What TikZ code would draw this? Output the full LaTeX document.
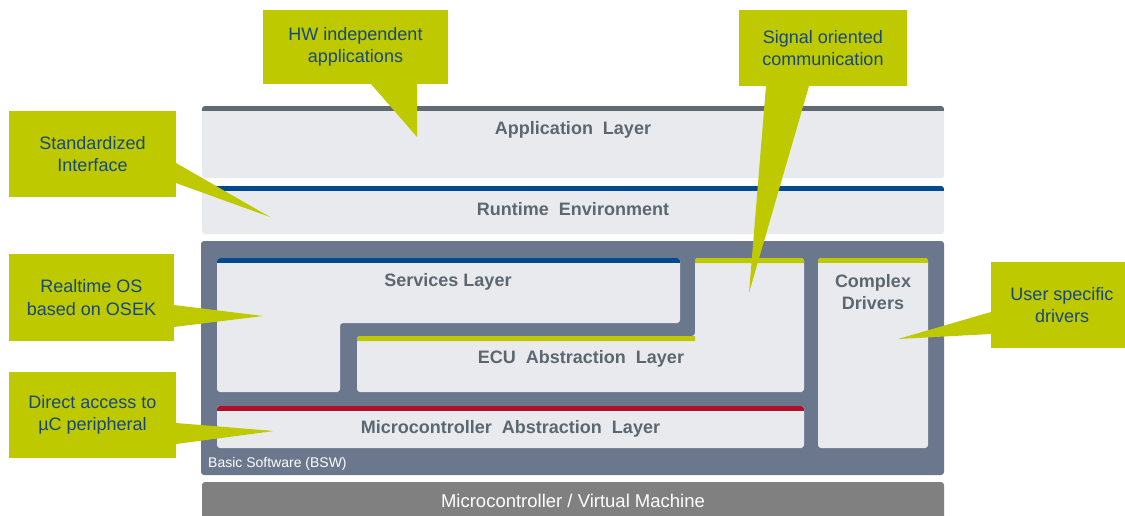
\documentclass[tikz,border=0pt]{standalone}
\usepackage{fontspec}
\setmainfont{Liberation Sans}
\usepackage{tikz}

\definecolor{callgreen}{RGB}{190,201,0}
\definecolor{calltxt}{RGB}{23,72,124}
\definecolor{layerbg}{RGB}{232,234,238}
\definecolor{layertxt}{RGB}{92,103,112}
\definecolor{bswbg}{RGB}{107,119,141}
\definecolor{appstrip}{RGB}{95,106,114}
\definecolor{bluestrip}{RGB}{0,74,141}
\definecolor{redstrip}{RGB}{176,16,42}
\definecolor{mcbg}{RGB}{128,128,128}

\tikzset{
	layer/.style={fill=layerbg, rounded corners=3pt, anchor=north west, inner sep=0pt, outer sep=0pt},
	strip/.style={path picture={\fill[#1, sharp corners] (path picture bounding box.north west) rectangle ([yshift=-5pt]path picture bounding box.north east);}},
	layertext/.style={text=layertxt, font=\fontsize{18}{21.5}\selectfont\bfseries, align=center, inner sep=0pt},
	callout/.style={fill=callgreen, text=calltxt, font=\fontsize{18}{22.5}\selectfont, align=center, anchor=north west, inner sep=0pt, outer sep=0pt},
	pointer/.style={fill=callgreen}
}

\begin{document}
\begin{tikzpicture}[x=1pt,y=-1pt]
	\useasboundingbox (0,0) rectangle (1125,516);

	\node[layer, strip=appstrip, minimum width=742pt, minimum height=72pt] (app) at (202,106) {};
	\node[layer, strip=bluestrip, minimum width=742pt, minimum height=48pt] (rte) at (202,186) {};
	\node[layer, fill=bswbg, minimum width=743pt, minimum height=234pt] (bsw) at (201,241) {};
	\node[layer, fill=mcbg, minimum width=742pt, minimum height=50pt] (mcvm) at (202,482) {};

	\path[fill=layerbg, rounded corners=3pt, path picture={\fill[bluestrip, sharp corners] (217,258) rectangle (680,263);}]
		(217,258) -- (680,258) -- (680,323) -- (340,323) -- (340,392) -- (217,392) -- cycle;
	\path[fill=layerbg, rounded corners=3pt, path picture={\fill[callgreen, sharp corners] (357,336) rectangle (695,341) (695,258) rectangle (804,263);}]
		(357,336) -- (695,336) -- (695,258) -- (804,258) -- (804,392) -- (357,392) -- cycle;
	\node[layer, strip=redstrip, minimum width=587pt, minimum height=42pt] (mcal) at (217,406) {};
	\node[layer, strip=callgreen, minimum width=110pt, minimum height=190pt] (cdd) at (818,258) {};

	\node[layertext] (apptext) at ([yshift=-23.5pt]app.north) {Application\ \ Layer};
	\node[layertext] (rtetext) at ([yshift=-23.5pt]rte.north) {Runtime\ \ Environment};
	\node[layertext] (srvtext) at (448,281.5) {Services Layer};
	\node[layertext] (ecutext) at (581,358.5) {ECU\ \ Abstraction\ \ Layer};
	\node[layertext] (mcaltext) at ([yshift=-23pt]mcal.north) {Microcontroller\ \ Abstraction\ \ Layer};
	\node[layertext] (cddtext) at ([yshift=-34pt]cdd.north) {Complex\\Drivers};
	\node[text=white, font=\fontsize{14}{16}\selectfont, anchor=west, inner sep=0pt] (bswtext) at ([xshift=7pt,yshift=11pt]bsw.south west) {Basic Software (BSW)};
	\node[text=white, font=\fontsize{18.5}{22}\selectfont, inner sep=0pt] (mcvmtext) at ([yshift=-19pt]mcvm.north) {Microcontroller / Virtual Machine};

	\node[callout, minimum width=185pt, minimum height=74pt] (hw) at (263,10) {HW independent\\applications};
	\node[callout, minimum width=168pt, minimum height=76pt] (sig) at (739,10) {Signal oriented\\communication};
	\node[callout, minimum width=167pt, minimum height=86pt] (std) at (9,111) {Standardized\\Interface};
	\node[callout, minimum width=165pt, minimum height=87pt] (rtos) at (9,254) {Realtime OS\\based on OSEK};
	\node[callout, minimum width=167pt, minimum height=86pt] (dacc) at (9,372) {Direct access to\\µC peripheral};
	\node[callout, minimum width=142pt, minimum height=86pt] (usr) at (991,262) {User specific\\drivers};

	\coordinate (hwtip) at (417,137);
	\coordinate (sigtip) at (749,293);
	\coordinate (stdtip) at (270,217);
	\coordinate (rtostip) at (263,316);
	\coordinate (dacctip) at (274,431);
	\coordinate (usrtip) at (898,339);

	\fill[pointer] ([xshift=108pt]hw.south west) -- ([xshift=154pt]hw.south west) -- (hwtip) -- cycle;
	\fill[pointer] ([xshift=27pt]sig.south west) -- ([xshift=70pt]sig.south west) -- (sigtip) -- cycle;
	\fill[pointer] ([yshift=-52pt]std.north east) -- ([yshift=-72pt]std.north east) -- (stdtip) -- cycle;
	\fill[pointer] ([yshift=-51pt]rtos.north east) -- ([yshift=-73pt]rtos.north east) -- (rtostip) -- cycle;
	\fill[pointer] ([yshift=-51pt]dacc.north east) -- ([yshift=-72pt]dacc.north east) -- (dacctip) -- cycle;
	\fill[pointer] ([yshift=-50pt]usr.north west) -- ([yshift=-72pt]usr.north west) -- (usrtip) -- cycle;
\end{tikzpicture}
\end{document}
